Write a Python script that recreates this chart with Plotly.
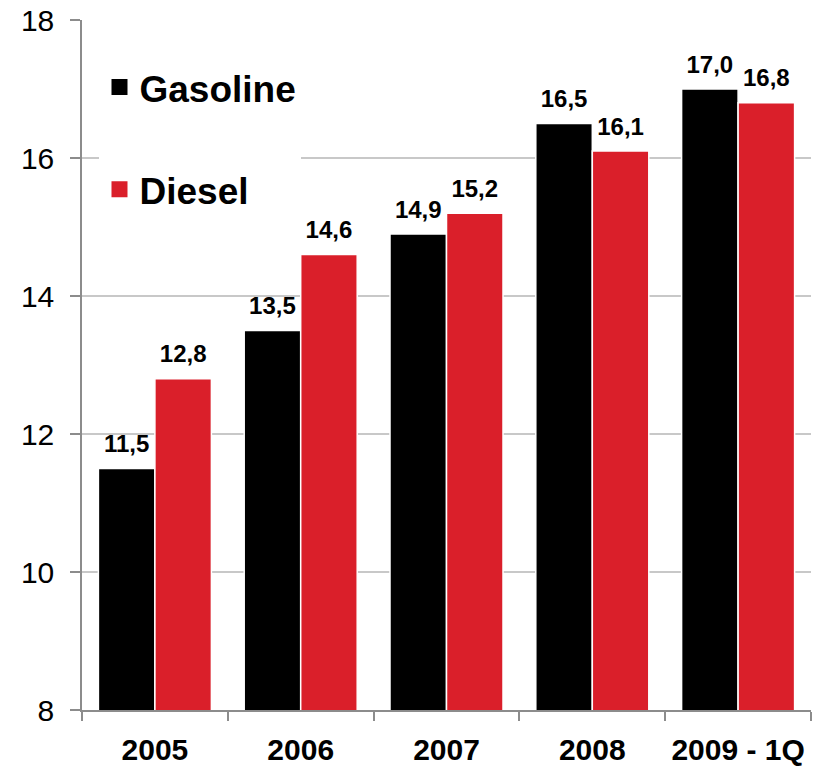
import plotly.graph_objects as go

categories = ["2005", "2006", "2007", "2008", "2009 - 1Q"]
gasoline = [11.5, 13.5, 14.9, 16.5, 17.0]
diesel = [12.8, 14.6, 15.2, 16.1, 16.8]
y_ticks = [8, 10, 12, 14, 16, 18]

BLACK = "#000000"
RED = "#DA1F2A"
FONT = "Liberation Sans, Arial, sans-serif"
GAP = 0.225


def fmt(v):
    return f"{v:.1f}".replace(".", ",")


fig = go.Figure()
for name, vals, col, og in [("Gasoline", gasoline, BLACK, "a"), ("Diesel", diesel, RED, "b")]:
    fig.add_trace(go.Bar(
        x=categories, y=vals, name=name, offsetgroup=og,
        marker=dict(color=col, line=dict(color="white", width=1.5)),
        showlegend=False,
    ))
for name, vals, og in [("Gasoline", gasoline, "a"), ("Diesel", diesel, "b")]:
    fig.add_trace(go.Scatter(
        x=categories, y=vals, name=name, offsetgroup=og,
        mode="markers+text", marker=dict(size=15, color="rgba(0,0,0,0)"),
        text=[fmt(v) for v in vals], textposition="top center",
        textfont=dict(family=FONT, size=24, color="black", weight="bold"),
        cliponaxis=False, showlegend=False, hoverinfo="skip",
    ))
# legend entries
for name, col, grp in [("Gasoline", BLACK, "g1"), ("Diesel", RED, "g2")]:
    fig.add_trace(go.Scatter(
        x=[None], y=[None], mode="markers", name=name, legendgroup=grp,
        marker=dict(symbol="square", size=16, color=col),
        showlegend=True,
    ))

fig.update_layout(
    width=821, height=770,
    margin=dict(l=82, r=10, t=20, b=60, autoexpand=False),
    paper_bgcolor="white", plot_bgcolor="white",
    barmode="group", bargap=GAP, bargroupgap=0.0,
    scattermode="group", scattergap=GAP,
    font=dict(family=FONT, color="black"),
    legend=dict(
        x=0.024, y=0.947, xanchor="left", yanchor="top",
        bgcolor="white", borderwidth=0,
        font=dict(family=FONT, size=37, color="black", weight="bold"),
        tracegroupgap=51, itemsizing="trace",
    ),
    xaxis=dict(
        automargin=False,
        showline=True, linecolor="#8c8c8c", linewidth=1.5,
        ticks="outside", ticklen=9, tickcolor="#8c8c8c", tickwidth=1.5,
        tickson="boundaries", ticklabelstandoff=12,
        tickfont=dict(family=FONT, size=30, color="black", weight="bold"),
        showgrid=False,
    ),
    yaxis=dict(
        automargin=False,
        range=[8, 18], tickvals=y_ticks, ticktext=[str(v) for v in y_ticks],
        showline=True, linecolor="#8c8c8c", linewidth=1.5,
        ticks="outside", ticklen=10, tickcolor="#8c8c8c", tickwidth=1.5,
        ticklabelstandoff=10,
        showgrid=True, gridcolor="#c8c8c8", gridwidth=1.5,
        zeroline=False,
        tickfont=dict(family=FONT, size=30, color="black"),
    ),
)

fig.write_html("out.html")
